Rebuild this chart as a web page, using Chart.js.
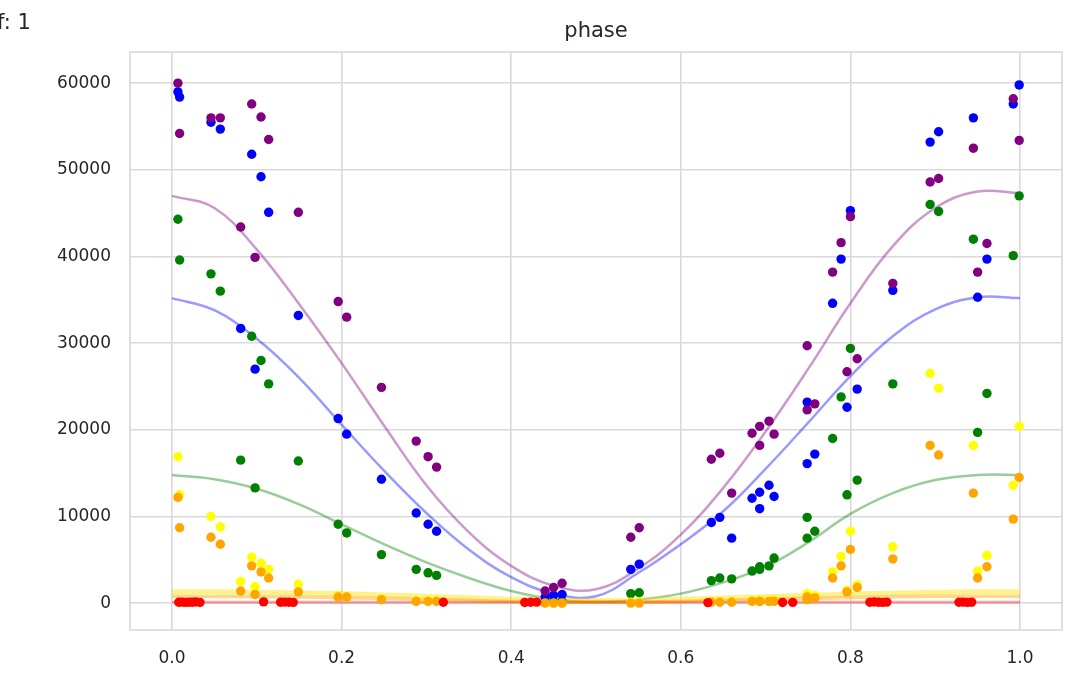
<!DOCTYPE html>
<html>
<head>
<meta charset="utf-8">
<script src="https://cdn.jsdelivr.net/npm/chart.js@4.4.0/dist/chart.umd.min.js"></script>
<style>
html,body{margin:0;padding:0;background:#fff;}
canvas{display:block;}
</style>
</head>
<body>
<canvas id="c" width="1076" height="679"></canvas>
<script>
// ---- data ----
const phase = [0.007,0.009,0.046,0.057,0.081,0.094,0.098,0.105,0.114,0.149,0.196,0.206,0.247,0.288,0.302,0.312,0.440,0.450,0.460,0.541,0.551,0.636,0.646,0.660,0.684,0.693,0.693,0.704,0.710,0.749,0.749,0.758,0.779,0.789,0.796,0.800,0.808,0.850,0.894,0.904,0.945,0.950,0.961,0.992,0.999];
const purpleVals = [60000,54200,56000,56000,43400,57600,39900,56100,53500,45100,34800,33000,24900,18700,16900,15700,1400,1800,2300,7600,8700,16600,17300,12700,19600,20400,18200,21000,19500,29700,22300,23000,38200,41600,26700,44600,28200,36900,48600,49000,52500,38200,41500,58200,53400];
const blueVals = [59000,58400,55500,54700,31700,51800,27000,49200,45100,33200,21300,19500,14300,10400,9100,8300,700,900,1000,3900,4500,9300,9900,7500,12100,12800,10900,13600,12300,23200,16100,17200,34600,39700,22600,45300,24700,36100,53200,54400,56000,35300,39700,57600,59800];
const greenVals = [44300,39600,38000,36000,16500,30800,13300,28000,25300,16400,9100,8100,5600,3900,3500,3200,100,150,200,1100,1200,2600,2900,2800,3700,4200,3900,4300,5200,9900,7500,8300,19000,23800,12500,29400,14200,25300,46000,45200,42000,19700,24200,40100,47000];
const yellowVals = [16900,12500,10000,8800,2500,5300,1900,4600,3900,2200,900,700,500,300,300,300,0,0,0,100,100,200,200,200,300,300,300,300,400,1100,600,900,3600,5400,1500,8300,2100,6500,26500,24800,18200,3700,5500,13600,20400];
const orangeVals = [12200,8700,7600,6800,1400,4300,1000,3600,2900,1300,700,700,400,200,200,200,0,0,0,0,0,100,100,100,200,200,200,200,200,700,400,600,2900,4300,1300,6200,1800,5100,18200,17100,12700,2900,4200,9700,14500];
const redPhase = [0.008,0.012,0.016,0.020,0.024,0.028,0.033,0.108,0.128,0.133,0.138,0.143,0.320,0.416,0.423,0.430,0.632,0.720,0.732,0.823,0.828,0.833,0.838,0.843,0.928,0.933,0.938,0.943];
const redVals = [100,120,90,110,100,130,90,150,100,120,110,90,100,80,100,120,60,80,90,110,130,100,90,120,100,120,90,110];

// fitted curves
const curveX = [0,0.05,0.1,0.15,0.2,0.25,0.3,0.35,0.4,0.45,0.5,0.55,0.6,0.65,0.7,0.75,0.8,0.85,0.9,0.95,1.0];
const purpleCurve = [47000,45600,40800,34500,27700,20500,13600,8200,4300,2000,1600,4000,7900,13300,19800,27000,34600,41200,45600,47500,47300];
const blueCurve = [35200,33800,30500,26000,20600,15300,10400,6200,3000,1100,800,3500,6800,10600,15500,20800,26200,30800,33900,35300,35200];
const greenCurve = [14800,14300,13200,11400,9100,6800,4700,2900,1400,450,150,400,1100,2400,4200,7000,10300,12700,14200,14800,14800];
const yellowCurve = [1300,1300,1250,1180,1100,950,800,620,450,330,300,330,450,600,750,900,1050,1150,1250,1300,1300];
const orangeCurve = [800,780,750,700,650,550,450,320,200,130,100,130,200,320,450,550,650,730,800,800,800];
const redCurve = [100,100,100,100,100,100,100,100,100,100,100,100,100,100,100,100,100,100,100,100,100];

const xTicks = [0,0.2,0.4,0.6,0.8,1.0];
const yTicks = [0,10000,20000,30000,40000,50000,60000];
const titleText = 'phase';
const cornerText = 'f: 1';

// ---- build ----
const zip = (xs, ys) => xs.map((x, i) => ({x: x, y: ys[i]}));
const pts = (label, xs, ys, color, order) => ({
  type: 'scatter', label, data: zip(xs, ys), backgroundColor: color, borderWidth: 0,
  pointRadius: 4.7, pointHoverRadius: 4.7, order
});
const curve = (label, ys, color, width, order) => ({
  type: 'line', label, data: zip(curveX, ys), borderColor: color, borderWidth: width,
  pointRadius: 0, fill: false, tension: 0.4, order
});

const FONT = 'DejaVu Sans';
const GRID = '#d9d9d9';
const TXT = '#262626';

const decor = {
  id: 'decor',
  beforeDatasetsDraw(chart) {
    const {ctx, chartArea: a} = chart;
    ctx.save();
    ctx.strokeStyle = GRID;
    ctx.lineWidth = 1.6;
    ctx.strokeRect(a.left, a.top, a.right - a.left, a.bottom - a.top);
    ctx.restore();
  },
  afterDraw(chart) {
    const {ctx, chartArea: a} = chart;
    ctx.save();
    ctx.fillStyle = TXT;
    ctx.font = '21px "' + FONT + '"';
    ctx.textAlign = 'center';
    ctx.textBaseline = 'alphabetic';
    ctx.fillText(titleText, (a.left + a.right) / 2, 37);
    ctx.textAlign = 'left';
    ctx.fillText(cornerText, -3, 29);
    ctx.restore();
  }
};

new Chart(document.getElementById('c'), {
  type: 'scatter',
  data: {
    datasets: [
      pts('red', redPhase, redVals, '#ff0000', 0),
      pts('orange', phase, orangeVals, '#ffa500', 1),
      pts('yellow', phase, yellowVals, '#ffff00', 2),
      pts('purple', phase, purpleVals, '#800080', 3),
      pts('blue', phase, blueVals, '#0000ff', 4),
      pts('green', phase, greenVals, '#008000', 5),
      curve('red fit', redCurve, 'rgba(255,0,0,0.35)', 3, 10),
      curve('orange fit', orangeCurve, 'rgba(255,165,0,0.45)', 3.5, 11),
      curve('yellow fit', yellowCurve, 'rgba(255,225,0,0.45)', 5, 12),
      curve('green fit', greenCurve, 'rgba(0,128,0,0.4)', 2.5, 13),
      curve('blue fit', blueCurve, 'rgba(0,0,255,0.4)', 2.5, 14),
      curve('purple fit', purpleCurve, 'rgba(128,0,128,0.4)', 2.5, 15)
    ]
  },
  options: {
    responsive: false,
    devicePixelRatio: 1,
    animation: false,
    layout: {padding: {top: 52, right: 14, left: 0, bottom: 0}},
    plugins: {legend: {display: false}, tooltip: {enabled: false}, title: {display: false}},
    scales: {
      x: {
        type: 'linear', min: -0.0495, max: 1.0495,
        afterBuildTicks: s => { s.ticks = xTicks.map(v => ({value: v})); },
        afterFit: s => { s.height = 49; },
        grid: {color: GRID, lineWidth: 1.6, drawTicks: false, tickLength: 0},
        border: {display: false},
        ticks: {padding: 18, color: TXT, font: {family: FONT, size: 17}, callback: v => Number(v).toFixed(1), maxRotation: 0}
      },
      y: {
        type: 'linear', min: -3100, max: 63600,
        afterBuildTicks: s => { s.ticks = yTicks.map(v => ({value: v})); },
        afterFit: s => { s.width = 130; },
        grid: {color: GRID, lineWidth: 1.6, drawTicks: false, tickLength: 0},
        border: {display: false},
        ticks: {padding: 19, color: TXT, font: {family: FONT, size: 17}, callback: v => String(v)}
      }
    }
  },
  plugins: [decor]
});
</script>
</body>
</html>
